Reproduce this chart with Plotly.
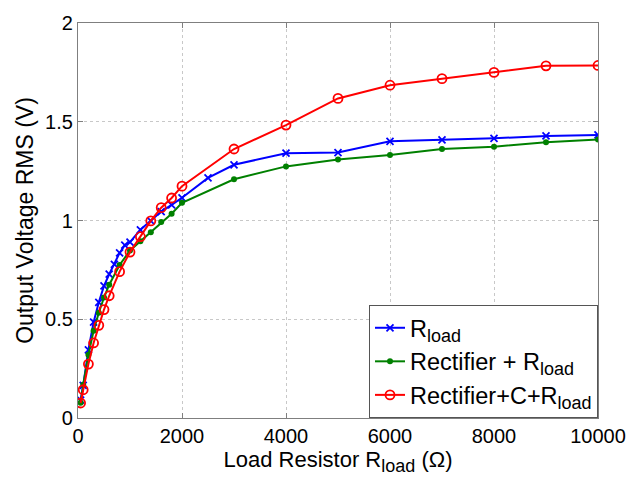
import plotly.graph_objects as go

# Load resistance sweep (ohms) and measured RMS output voltages (V)
r_load_x = [50, 100, 200, 300, 400, 500, 600, 700, 800, 900, 1000, 1200, 1400, 1600,
            1800, 2000, 2500, 3000, 4000, 5000, 6000, 7000, 8000, 9000, 10000]
v_load = [0.09, 0.165, 0.345, 0.485, 0.586, 0.669, 0.728, 0.778, 0.836, 0.875, 0.891,
          0.953, 0.998, 1.045, 1.079, 1.115, 1.216, 1.282, 1.341, 1.344, 1.401, 1.408,
          1.416, 1.428, 1.433]

rect_x = [50, 100, 200, 300, 400, 500, 600, 800, 1000, 1200, 1400, 1600, 1800, 2000,
          3000, 4000, 5000, 6000, 7000, 8000, 9000, 10000]
v_rect = [0.077, 0.168, 0.32, 0.442, 0.533, 0.61, 0.675, 0.775, 0.848, 0.895, 0.94,
          0.992, 1.034, 1.09, 1.209, 1.274, 1.309, 1.332, 1.362, 1.374, 1.396, 1.41]

rectc_x = [50, 100, 200, 300, 400, 500, 600, 800, 1000, 1200, 1400, 1600, 1800, 2000,
           3000, 4000, 5000, 6000, 7000, 8000, 9000, 10000]
v_rectc = [0.076, 0.143, 0.273, 0.38, 0.469, 0.549, 0.619, 0.741, 0.840, 0.918, 0.998,
           1.065, 1.114, 1.174, 1.362, 1.483, 1.618, 1.685, 1.718, 1.750, 1.783, 1.785]

x_ticks = [0, 2000, 4000, 6000, 8000, 10000]
y_ticks = [0, 0.5, 1, 1.5, 2]
y_tick_text = ["0", "0.5", "1", "1.5", "2"]

FONT = "Liberation Sans, Arial, sans-serif"
SUB = "<sub><span style='font-size:18px'>load</span></sub>"

fig = go.Figure()
fig.add_trace(go.Scatter(
    x=r_load_x, y=v_load, mode="lines+markers", name="R" + SUB,
    line=dict(color="#0000FF", width=2),
    marker=dict(symbol="x-thin", size=7, line=dict(color="#0000FF", width=1.8)),
))
fig.add_trace(go.Scatter(
    x=rect_x, y=v_rect, mode="lines+markers", name="Rectifier + R" + SUB,
    line=dict(color="#008000", width=2),
    marker=dict(symbol="circle", size=6, color="#008000"),
))
fig.add_trace(go.Scatter(
    x=rectc_x, y=v_rectc, mode="lines+markers", name="Rectifier+C+R" + SUB,
    line=dict(color="#FF0000", width=2),
    marker=dict(symbol="circle-open", size=9, color="#FF0000", line=dict(width=1.8)),
))

axis_common = dict(
    showline=True, linecolor="#7f7f7f", linewidth=1.3, mirror="ticks",
    ticks="inside", ticklen=5, tickcolor="#7f7f7f",
    showgrid=True, gridcolor="#c8c8c8", griddash="dot", gridwidth=1,
    zeroline=False, tickfont=dict(size=20, color="black", family=FONT),
)

fig.update_xaxes(
    range=[0, 10000], tickvals=x_ticks, ticktext=[str(v) for v in x_ticks],
    title=dict(text="Load Resistor R" + SUB + " (\u03a9)",
               font=dict(size=22, color="black", family=FONT), standoff=2),
    **axis_common,
)
fig.update_yaxes(
    range=[0, 2], tickvals=y_ticks, ticktext=y_tick_text,
    title=dict(text="Output Voltage RMS (V)",
               font=dict(size=23, color="black", family=FONT), standoff=4),
    **axis_common,
)

fig.update_layout(
    width=642, height=479,
    margin=dict(l=78, r=44, t=19, b=61),
    paper_bgcolor="white", plot_bgcolor="white",
    font=dict(family=FONT, color="black"),
    legend=dict(
        x=1, y=0, xanchor="right", yanchor="bottom",
        bgcolor="white", bordercolor="#555555", borderwidth=1,
        font=dict(size=23.5, color="black", family=FONT),
        itemwidth=30, tracegroupgap=0,
    ),
)

fig.write_html("out.html")
